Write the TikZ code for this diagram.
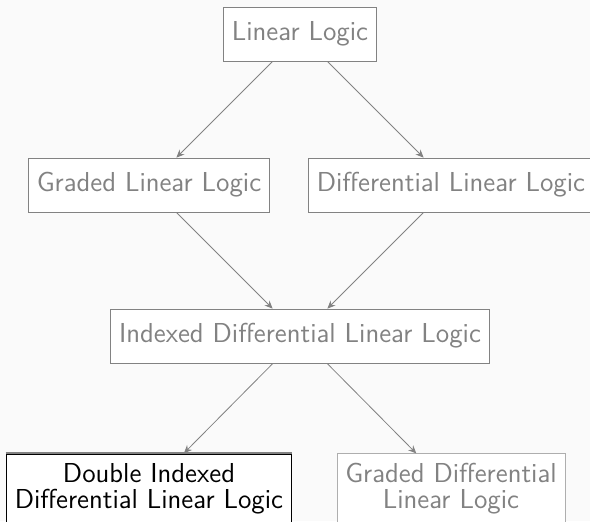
\documentclass[tikz,border=0pt]{standalone}
\usetikzlibrary{arrows.meta}

\definecolor{slidebg}{HTML}{FAFAFA}
\definecolor{dimgray}{HTML}{828282}

\tikzset{
  logic/.style={draw=dimgray, fill=white, text=dimgray, inner xsep=4.2pt,
    minimum height=27pt, font=\fontsize{13.7}{13}\selectfont\sffamily},
  twoline/.style={logic, align=center, minimum height=0pt, inner ysep=4.6pt},
  current/.style={draw=black, text=black, line width=0.8pt},
  link/.style={draw=dimgray, -{Stealth[length=4pt,width=3.5pt]}},
}

\begin{document}
\begin{tikzpicture}[x=0.5pt,y=-0.5pt]
    \fill[slidebg] (0,0) rectangle (590,521);
    \useasboundingbox (0,0) rectangle (590,521);

    \node[logic] (ll) at (300,34) {Linear Logic};

    \node[logic] (gll) at (149,185) {Graded Linear Logic};
    \node[logic] (dll) at (451,185) {Differential Linear Logic};

    \node[logic] (idll) at (300,336) {Indexed Differential Linear Logic};

    \node[twoline, current] (didll) at (149,488.5) {Double Indexed\\Differential Linear Logic};
    \node[twoline, draw=dimgray!65] (gdll) at (451,488.5) {Graded Differential\\Linear Logic};
    \draw[dimgray, line width=0.8pt] (didll.north west) -- (didll.north east);

    \draw[link] (ll) -- (gll);
    \draw[link] (ll) -- (dll);

    \draw[link] (gll) -- (idll);
    \draw[link] (dll) -- (idll);

    \draw[link] (idll) -- (didll);
    \draw[link] (idll) -- (gdll);
  \end{tikzpicture}
\end{document}
